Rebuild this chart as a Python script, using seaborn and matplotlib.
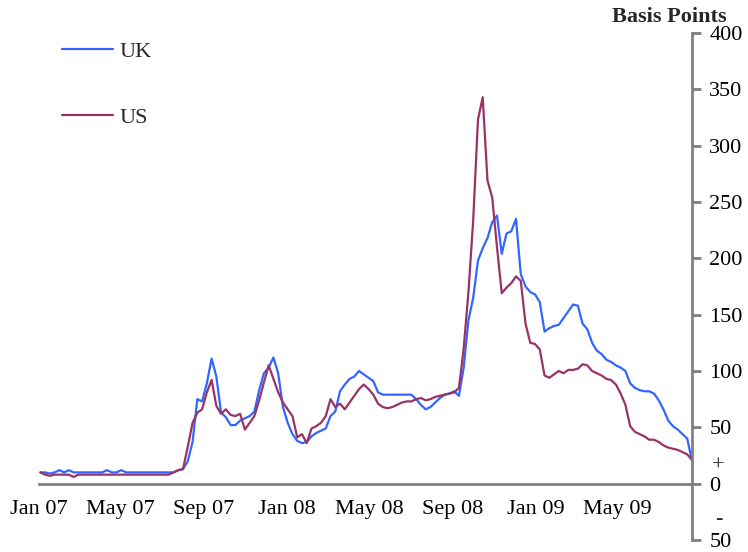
import numpy as np
import pandas as pd
import seaborn as sns
import matplotlib.pyplot as plt

# weekly spreads, Jan 2007 - Aug 2009 (basis points)
dates = pd.date_range("2007-01-03", periods=138, freq="7D")

uk = [10, 10, 9, 10, 12, 10, 12, 10, 10, 10,
      10, 10, 10, 10, 12, 10, 10, 12, 10, 10,
      10, 10, 10, 10, 10, 10, 10, 10, 10, 12,
      13, 20, 37, 75, 73, 89, 111, 95, 63, 59,
      52, 52, 56, 58, 60, 64, 83, 98, 103, 112,
      98, 68, 54, 44, 38, 36, 37, 42, 45, 47,
      49, 60, 64, 82, 88, 93, 95, 100, 97, 94,
      91, 81, 79, 79, 79, 79, 79, 79, 79, 75,
      70, 66, 68, 72, 76, 79, 80, 82, 78, 103,
      145, 165, 198, 209, 218, 232, 238, 204, 222, 224,
      235, 186, 175, 170, 168, 161, 135, 138, 140, 141,
      147, 153, 159, 158, 142, 137, 125, 118, 115, 110,
      108, 105, 103, 100, 89, 85, 83, 82, 82, 80,
      74, 66, 56, 51, 48, 44, 40, 20]

us = [10, 8, 7, 8, 8, 8, 8, 6, 8, 8,
      8, 8, 8, 8, 8, 8, 8, 8, 8, 8,
      8, 8, 8, 8, 8, 8, 8, 8, 10, 12,
      13, 33, 54, 63, 66, 81, 92, 69, 62, 66,
      61, 60, 62, 48, 54, 60, 74, 90, 105, 93,
      81, 72, 66, 60, 41, 44, 36, 49, 51, 54,
      60, 75, 68, 71, 66, 72, 78, 84, 88, 84,
      79, 71, 68, 67, 68, 70, 72, 73, 73, 75,
      76, 74, 75, 77, 78, 79, 80, 81, 85, 120,
      170, 234, 323, 343, 269, 254, 210, 169, 174, 178,
      184, 180, 142, 125, 124, 119, 96, 94, 97, 100,
      98, 101, 101, 102, 106, 105, 100, 98, 96, 93,
      92, 88, 80, 70, 51, 46, 44, 42, 39, 39,
      37, 34, 32, 31, 30, 28, 26, 21]

tick_dates = pd.to_datetime(["2007-01-01", "2007-05-01", "2007-09-01", "2008-01-01",
                             "2008-05-01", "2008-09-01", "2009-01-01", "2009-05-01"])
tick_labels = ["Jan 07", "May 07", "Sep 07", "Jan 08", "May 08", "Sep 08", "Jan 09", "May 09"]
y_ticks = [-50, 0, 50, 100, 150, 200, 250, 300, 350, 400]
y_labels = ["50", "0", "50", "100", "150", "200", "250", "300", "350", "400"]

sns.set_style("white")
plt.rcParams["font.family"] = ["Liberation Serif", "DejaVu Serif"]

fig = plt.figure(figsize=(7.48, 5.52), dpi=100)
ax = fig.add_axes([39 / 748, 12 / 552, 653 / 748, 507 / 552])

sns.lineplot(x=dates, y=uk, ax=ax, color="#3366FF", lw=1.6, label="UK")
sns.lineplot(x=dates, y=us, ax=ax, color="#993366", lw=1.6, label="US")

ax.set_xlim(pd.Timestamp("2007-01-01"), dates[-1])
ax.set_ylim(-50, 400)

grey = "#808080"
ax.spines["top"].set_visible(False)
ax.spines["left"].set_visible(False)
ax.spines["right"].set_color(grey)
ax.spines["right"].set_linewidth(2)
ax.spines["bottom"].set_position(("data", 0))
ax.spines["bottom"].set_color(grey)
ax.spines["bottom"].set_linewidth(2)

ax.yaxis.tick_right()
ax.set_yticks(y_ticks)
ax.set_yticklabels(y_labels)
ax.set_xticks(tick_dates)
ax.set_xticklabels(tick_labels)
ax.tick_params(axis="both", colors=grey, width=2, length=6.5, labelsize=16,
               labelcolor="black", direction="out")
ax.tick_params(axis="y", pad=6)
ax.tick_params(axis="x", pad=5)
ax.set_xlabel("")
ax.set_ylabel("")

# signs above the 0 and -50 labels
ytr = ax.get_yaxis_transform()
ax.annotate("+", xy=(1, 0), xycoords=ytr, xytext=(19, 12.5), textcoords="offset points",
            ha="center", va="center", fontsize=16)
ax.annotate("-", xy=(1, -50), xycoords=ytr, xytext=(19, 15), textcoords="offset points",
            ha="center", va="center", fontsize=16)

ax.text(0.966, 1.022, "Basis Points", transform=ax.transAxes, ha="center",
        va="baseline", fontsize=16, fontweight="bold")

ax.legend(loc="upper left", bbox_to_anchor=(0.035, 0.984), frameon=False,
          handlelength=2.3, handletextpad=0.3, labelspacing=2.05,
          borderpad=0, borderaxespad=0, fontsize=16)

fig.savefig("out.png", dpi=100)
